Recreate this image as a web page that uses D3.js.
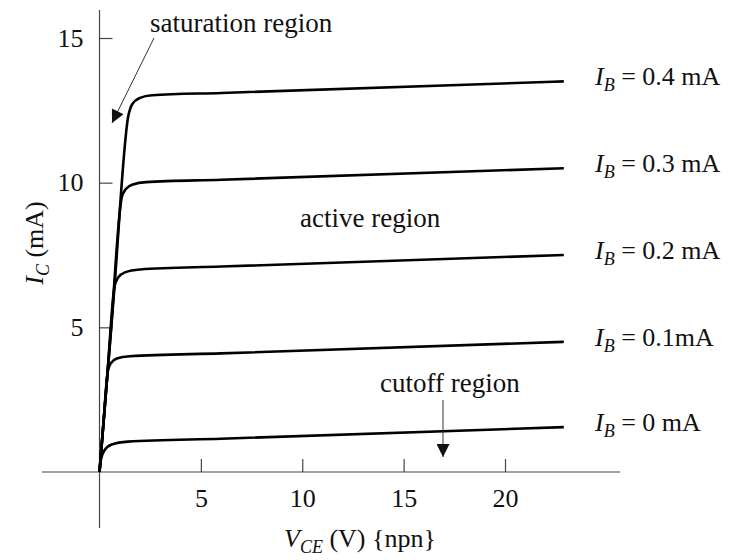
<!DOCTYPE html>
<html>
<head>
<meta charset="utf-8">
<script src="https://cdn.jsdelivr.net/npm/d3@7"></script>
<style>
  body { margin: 0; background: #fff; }
  svg text { font-family: "Liberation Serif", "Times New Roman", serif; fill: #111; }
</style>
</head>
<body>
<div id="chart"></div>
<script>
// tick values
const xTicks = [5, 10, 15, 20];
const yTicks = [5, 10, 15];

// curve labels (base current)
const ibLabels = ["0.4 mA", "0.3 mA", "0.2 mA", "0.1mA", "0 mA"];

// I_C vs V_CE: [V, mA]
const ib04 = [[0, 0], [0.7, 6.05], [1.42, 12.3], [1.62, 12.72], [2.0, 12.93], [2.6, 13.02], [6, 13.1], [22.9, 13.5]];
const ib03 = [[0, 0], [0.55, 4.75], [1.1, 9.5], [1.3, 9.78], [1.65, 9.94], [2.3, 10.02], [6, 10.1], [22.9, 10.5]];
const ib02 = [[0, 0], [0.37, 3.2], [0.74, 6.4], [0.92, 6.72], [1.25, 6.9], [2.0, 7.0], [6, 7.1], [22.9, 7.5]];
const ib01 = [[0, 0], [0.2, 1.73], [0.4, 3.45], [0.55, 3.75], [0.85, 3.92], [1.5, 4.0], [6, 4.1], [22.9, 4.5]];
const ib00 = [[0, 0], [0.08, 0.45], [0.25, 0.75], [0.6, 0.95], [1.4, 1.05], [6, 1.15], [22.9, 1.55]];
const curves = [ib04, ib03, ib02, ib01, ib00];

const width = 735, height = 560;
const svg = d3.select("#chart").append("svg")
    .attr("width", width).attr("height", height);

const x = d3.scaleLinear().domain([0, 20]).range([99.5, 505]);
const y = d3.scaleLinear().domain([0, 15]).range([472, 38]);

const FS = 26;

svg.append("defs").append("marker")
    .attr("id", "arrow")
    .attr("viewBox", "0 -5 10 10")
    .attr("refX", 10).attr("refY", 0)
    .attr("markerUnits", "userSpaceOnUse")
    .attr("markerWidth", 15).attr("markerHeight", 13)
    .attr("orient", "auto")
    .append("path")
    .attr("d", "M0,-5L10,0L0,5Z")
    .attr("fill", "#111");

// axis lines (extend past the origin like the figure)
svg.append("line")
    .attr("x1", 42).attr("x2", 620)
    .attr("y1", y(0)).attr("y2", y(0))
    .attr("stroke", "#444").attr("stroke-width", 1.2);
svg.append("line")
    .attr("x1", x(0)).attr("x2", x(0))
    .attr("y1", 10).attr("y2", 528)
    .attr("stroke", "#444").attr("stroke-width", 1.2);

const xAxis = svg.append("g")
    .attr("transform", `translate(0,${y(0)})`)
    .call(d3.axisBottom(x).tickValues(xTicks).tickSizeInner(-13).tickSizeOuter(0).tickPadding(17));
const yAxis = svg.append("g")
    .attr("transform", `translate(${x(0)},0)`)
    .call(d3.axisLeft(y).tickValues(yTicks).tickSizeInner(-13).tickSizeOuter(0).tickPadding(16));

[xAxis, yAxis].forEach(g => {
    g.select(".domain").remove();
    g.selectAll(".tick line").attr("stroke", "#444").attr("stroke-width", 1.2);
    g.selectAll(".tick text")
        .attr("font-family", "Liberation Serif, serif")
        .attr("font-size", FS).attr("fill", "#111");
});

// curves
const line = d3.line()
    .x(d => x(d[0]))
    .y(d => y(d[1]))
    .curve(d3.curveMonotoneX);

svg.selectAll("path.curve")
    .data(curves)
    .enter().append("path")
    .attr("class", "curve")
    .attr("d", line)
    .attr("fill", "none")
    .attr("stroke", "#000")
    .attr("stroke-width", 2.6)
    .attr("stroke-linejoin", "round");

// right-hand labels
const lab = svg.selectAll("text.ib")
    .data(curves)
    .enter().append("text")
    .attr("class", "ib")
    .attr("x", 595)
    .attr("y", d => y(d[d.length - 1][1]) + 4)
    .attr("font-size", FS);
lab.append("tspan").attr("font-style", "italic").text("I");
lab.append("tspan").attr("font-style", "italic").attr("font-size", 18).attr("dy", 6).text("B");
lab.append("tspan").attr("dy", -6).text((d, i) => " = " + ibLabels[i]);

// axis titles
const yt = svg.append("text")
    .attr("transform", "translate(43,243) rotate(-90)")
    .attr("text-anchor", "middle")
    .attr("font-size", FS);
yt.append("tspan").attr("font-style", "italic").text("I");
yt.append("tspan").attr("font-style", "italic").attr("font-size", 18).attr("dy", 6).text("C");
yt.append("tspan").attr("dy", -6).text(" (mA)");

const xt = svg.append("text")
    .attr("x", 360).attr("y", 547)
    .attr("text-anchor", "middle")
    .attr("font-size", FS);
xt.append("tspan").attr("font-style", "italic").text("V");
xt.append("tspan").attr("font-style", "italic").attr("font-size", 18).attr("dy", 6).text("CE");
xt.append("tspan").attr("dy", -6).text(" (V) {npn}");

// region annotations
svg.append("text").attr("x", 150).attr("y", 32).attr("font-size", 27).text("saturation region");
svg.append("text").attr("x", 300).attr("y", 227).attr("font-size", 27).text("active region");
svg.append("text").attr("x", 380).attr("y", 392).attr("font-size", 27).text("cutoff region");

svg.append("line")
    .attr("x1", 154).attr("y1", 38).attr("x2", 112).attr("y2", 123)
    .attr("stroke", "#333").attr("stroke-width", 1)
    .attr("marker-end", "url(#arrow)");
svg.append("line")
    .attr("x1", 443).attr("y1", 400).attr("x2", 443).attr("y2", 457)
    .attr("stroke", "#333").attr("stroke-width", 1)
    .attr("marker-end", "url(#arrow)");
</script>
</body>
</html>
